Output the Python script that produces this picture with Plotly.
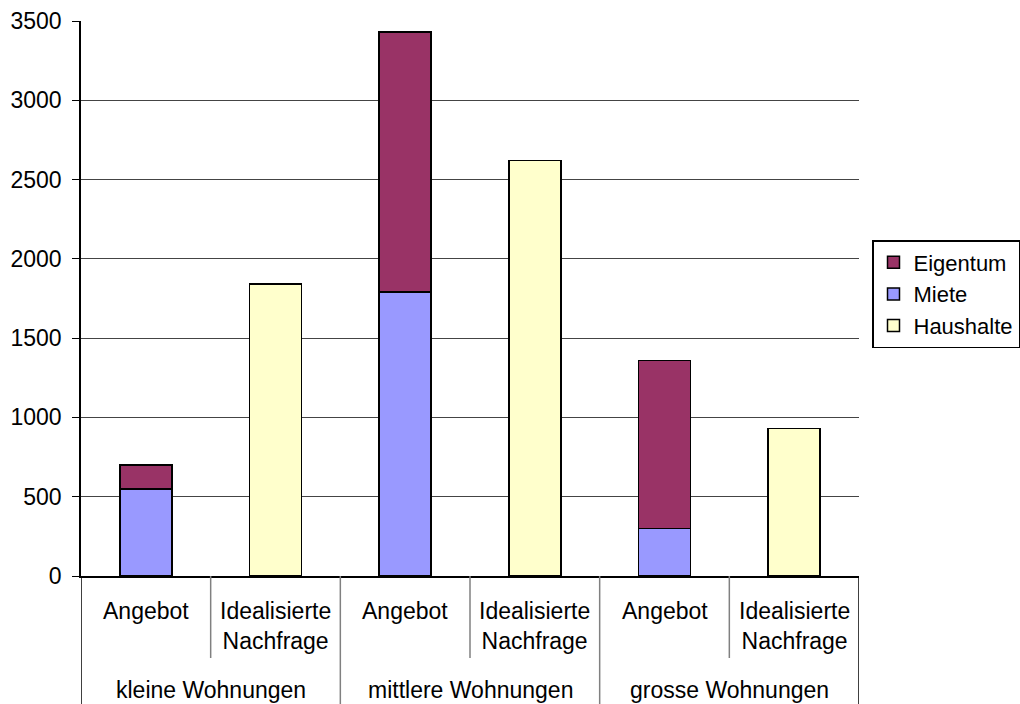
import plotly.graph_objects as go

# ---- data ----
groups = ["kleine Wohnungen", "kleine Wohnungen", "mittlere Wohnungen", "mittlere Wohnungen",
          "grosse Wohnungen", "grosse Wohnungen"]
subcats = ["Angebot", "Idealisierte<br>Nachfrage", "Angebot", "Idealisierte<br>Nachfrage",
           "Angebot", "Idealisierte<br>Nachfrage"]
miete = [550, None, 1790, None, 300, None]
eigentum = [150, None, 1640, None, 1060, None]
haushalte = [None, 1840, None, 2620, None, 930]
y_ticks = [0, 500, 1000, 1500, 2000, 2500, 3000, 3500]

FONT = "Liberation Sans, Arial, sans-serif"
FS = 23
W, H = 1020, 704
ML, MR, MT, MB = 81, 161, 21, 128
plot_h = H - MT - MB

def py(px):
    """pixel row -> paper y"""
    return (H - MB - px) / plot_h

xs = list(range(len(subcats)))

fig = go.Figure()
line = dict(color="black", width=1.5)
fig.add_bar(x=xs, y=miete, name="Miete", marker=dict(color="#9999FF", line=line),
            legendrank=2, legendgroup="m")
fig.add_bar(x=xs, y=eigentum, name="Eigentum", marker=dict(color="#993366", line=line),
            legendrank=1, legendgroup="e")
fig.add_bar(x=xs, y=haushalte, name="Haushalte", marker=dict(color="#FFFFCC", line=line),
            legendrank=3, legendgroup="h")

annotations = []
shapes = []
for i, s in enumerate(subcats):
    two = "<br>" in s
    annotations.append(dict(x=i, xref="x", y=py(626 if two else 611), yref="paper",
                            text=s, showarrow=False, yanchor="middle", xanchor="center",
                            font=dict(family=FONT, size=FS, color="black")))
# group labels and dividers
start = 0
for i in range(1, len(groups) + 1):
    if i == len(groups) or groups[i] != groups[start]:
        center = (start + i - 1) / 2
        annotations.append(dict(x=center, xref="x", y=py(690), yref="paper", text=groups[start],
                                showarrow=False, yanchor="middle", xanchor="center",
                                font=dict(family=FONT, size=FS, color="black")))
        if i < len(groups):
            shapes.append(dict(type="line", xref="x", yref="paper", x0=i - 0.5, x1=i - 0.5,
                               y0=0, y1=py(H), line=dict(color="#808080", width=1.5)))
        start = i
    else:
        shapes.append(dict(type="line", xref="x", yref="paper", x0=i - 0.5, x1=i - 0.5,
                           y0=0, y1=py(658), line=dict(color="#808080", width=1.5)))
for xb in (-0.5, len(subcats) - 0.5):
    shapes.append(dict(type="line", xref="x", yref="paper", x0=xb, x1=xb,
                       y0=0, y1=py(H), line=dict(color="black", width=1.5)))

fig.update_layout(
    width=W, height=H,
    margin=dict(l=ML, r=MR, t=MT, b=MB, autoexpand=False),
    barmode="stack", bargap=0.6,
    plot_bgcolor="white", paper_bgcolor="white",
    font=dict(family=FONT, size=FS, color="black"),
    xaxis=dict(range=[-0.5, len(subcats) - 0.5], showticklabels=False, showgrid=False,
               zeroline=False, showline=True, linecolor="black", linewidth=1.5, ticks=""),
    yaxis=dict(range=[0, 3500], tickvals=y_ticks, showgrid=True, gridcolor="#444444",
               gridwidth=1, zeroline=False, showline=True, linecolor="black", linewidth=1.5,
               ticks="outside", ticklen=7, tickcolor="black", ticklabelstandoff=6,
               tickfont=dict(family=FONT, size=FS, color="black")),
    legend=dict(x=(872 - ML) / (W - ML - MR), y=py(240), xanchor="left", yanchor="top",
                bordercolor="black", borderwidth=1.5, bgcolor="white",
                font=dict(family=FONT, size=22, color="black"),
                itemwidth=30, traceorder="normal", tracegroupgap=4),
    annotations=annotations, shapes=shapes,
    showlegend=True,
)

fig.write_html("out.html")
